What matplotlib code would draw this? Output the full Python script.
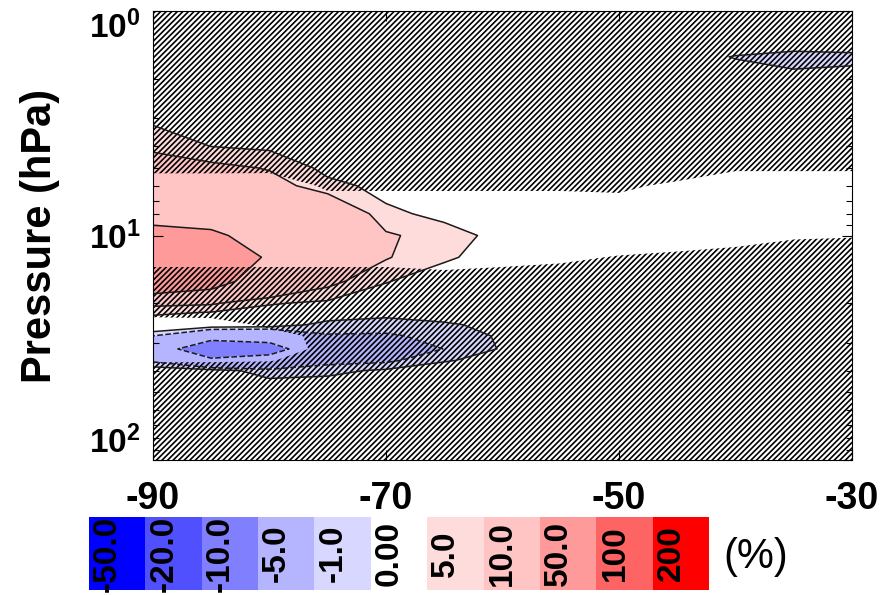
import numpy as np
import matplotlib.pyplot as plt
from matplotlib import colors

plt.rcParams['font.family'] = ['Liberation Sans', 'DejaVu Sans']
plt.rcParams['font.weight'] = 'bold'
plt.rcParams['mathtext.fontset'] = 'custom'
plt.rcParams['mathtext.rm'] = 'Liberation Sans:bold'
plt.rcParams['mathtext.bf'] = 'Liberation Sans:bold'
plt.rcParams['mathtext.it'] = 'Liberation Sans:bold'
plt.rcParams['mathtext.default'] = 'rm'
plt.rcParams['hatch.color'] = 'black'
plt.rcParams['hatch.linewidth'] = 1.2

# grid
lat = [-90, -85, -80, -75, -70, -65, -60, -55, -50, -45, -40, -35, -30]
pres = [1, 1.6, 2, 3, 4, 5, 6, 8, 10, 12.5, 16, 20, 22, 25, 28, 32, 36, 40, 50, 70, 100]

# change (%), one row per pressure level, one column per latitude
change = [
    [1.5, 1.5, 1.5, 1.5, 1.5, 1.5, 1.5, 1.5, 1.5, 2, 3, 4, 4],
    [2, 2, 2, 2, 2, 2, 2, 2, 1.5, 0.8, -0.1, -0.7, -0.5],
    [2.5, 2.5, 2.5, 2.3, 2.2, 2.2, 2.2, 2.2, 2, 1.8, 1, 0.6, 0.8],
    [3.8, 3.5, 3.3, 2.8, 2.5, 2.3, 2.2, 2.2, 2.2, 2.2, 2, 2, 2],
    [9, 4.9, 4, 3.2, 3, 2.5, 2.3, 2.3, 2.3, 2.3, 2.3, 2.3, 2.3],
    [12.9, 12, 9.5, 3.5, 3.3, 2.8, 2.5, 2.5, 2.5, 2.5, 2.5, 2.5, 2.5],
    [20, 20, 13, 6.5, 3.5, 3, 2.8, 2.8, 2.8, 2.8, 2.8, 2.8, 2.8],
    [40, 38, 25, 20, 6, 3.8, 3.2, 3, 3, 3, 3, 3, 3],
    [60, 55, 38, 28, 11, 7, 3.5, 3.2, 3.2, 3.2, 3.2, 3.2, 3.2],
    [85, 75, 46, 30, 10.5, 5.5, 3.5, 3.2, 3.2, 3.2, 3.2, 3.2, 3.2],
    [95, 70, 22, 12, 5.2, 3, 3, 3, 3, 3, 3, 3, 3],
    [12, 11, 5.5, 4, 2.5, 2.5, 2.5, 2.5, 2.5, 2.5, 2.5, 2.5, 2.5],
    [6, 4.8, 3, 1, 0.5, 1, 1.5, 2, 2, 2.2, 2.2, 2.2, 2.2],
    [1.5, 1, 0.8, -0.5, -0.7, -0.3, 0.6, 1.5, 1.8, 2, 2, 2, 2],
    [-1, -4, -4, -1.1, -1.1, -0.8, 0.2, 1.2, 1.5, 1.8, 1.8, 1.8, 1.8],
    [-3.5, -7, -6, -3, -3, -0.95, 0.1, 1, 1.3, 1.6, 1.6, 1.6, 1.6],
    [-1.3, -4.5, -4, -1.5, -1.3, -0.1, 0.4, 1, 1.3, 1.5, 1.5, 1.5, 1.5],
    [0.8, 0.5, -0.5, -0.3, 0.2, 0.6, 0.8, 1.2, 1.4, 1.5, 1.5, 1.5, 1.5],
    [1.5, 1.5, 1, 1, 1.2, 1.2, 1.2, 1.5, 1.5, 1.5, 1.5, 1.5, 1.5],
    [1.5, 1.5, 1.5, 1.5, 1.5, 1.5, 1.5, 1.5, 1.5, 1.5, 1.5, 1.5, 1.5],
    [1.5, 1.5, 1.5, 1.5, 1.5, 1.5, 1.5, 1.5, 1.5, 1.5, 1.5, 1.5, 1.5],
]

# significance (1 = significant, no hatching)
signif = [
    [0, 0, 0, 0, 0, 0, 0, 0, 0, 0, 0, 0, 0],
    [0, 0, 0, 0, 0, 0, 0, 0, 0, 0, 0, 0, 0],
    [0, 0, 0, 0, 0, 0, 0, 0, 0, 0, 0, 0, 0],
    [0, 0, 0, 0, 0, 0, 0, 0, 0, 0, 0, 0, 0],
    [0, 0, 0, 0, 0, 0, 0, 0, 0, 0, 0, 0, 0],
    [0.3, 0.3, 0.35, 0, 0, 0, 0, 0, 0, 0.1, 0.4, 0.4, 0.4],
    [1, 1, 0.9, 0.4, 0.4, 0.4, 0.4, 0.4, 0.35, 0.65, 1, 1, 1],
    [1, 1, 1, 1, 1, 1, 1, 1, 1, 1, 1, 1, 1],
    [1, 1, 1, 1, 1, 1, 1, 1, 1, 1, 0.9, 0.6, 0.55],
    [0.8, 0.8, 0.8, 0.8, 0.8, 1, 0.8, 0.65, 0.45, 0.3, 0.1, 0, 0],
    [0, 0, 0, 0, 0, 0, 0, 0, 0, 0, 0, 0, 0],
    [0, 0, 0, 0, 0, 0, 0, 0, 0, 0, 0, 0, 0],
    [0.2, 0.1, 0, 0, 0, 0, 0, 0, 0, 0, 0, 0, 0],
    [1, 1, 0.3, 0, 0, 0, 0, 0, 0, 0, 0, 0, 0],
    [1, 1, 0.9, 0.2, 0, 0, 0, 0, 0, 0, 0, 0, 0],
    [1, 1, 0.9, 0.3, 0, 0, 0, 0, 0, 0, 0, 0, 0],
    [0.6, 0.6, 0.55, 0.1, 0, 0, 0, 0, 0, 0, 0, 0, 0],
    [0, 0, 0, 0, 0, 0, 0, 0, 0, 0, 0, 0, 0],
    [0, 0, 0, 0, 0, 0, 0, 0, 0, 0, 0, 0, 0],
    [0, 0, 0, 0, 0, 0, 0, 0, 0, 0, 0, 0, 0],
    [0, 0, 0, 0, 0, 0, 0, 0, 0, 0, 0, 0, 0],
]

levels = [-50, -20, -10, -5, -1, 0, 5, 10, 50, 100, 200]
level_labels = ['-50.0', '-20.0', '-10.0', '-5.0', '-1.0', '0.00',
                '5.0', '10.0', '50.0', '100', '200']
fill_colors = ['#0000ff', '#5050ff', '#8080ff', '#b4b4ff', '#d7d7ff', '#ffffff',
               '#ffdcdc', '#ffc4c4', '#ff9a9a', '#ff6464', '#ff0000']

change = np.array(change)
signif = np.array(signif)
bounds = levels + [1000]
cmap = colors.ListedColormap(fill_colors)
norm = colors.BoundaryNorm(bounds, cmap.N)

fig = plt.figure(figsize=(8.93, 5.95), dpi=100)
ax = fig.add_axes([0.1713, 0.2269, 0.7828, 0.7546])

cf = ax.contourf(lat, pres, change, levels=bounds, cmap=cmap, norm=norm)
ax.contourf(lat, pres, signif, levels=[-1, 0.5, 2], colors='none',
            hatches=['//////', None])
styles = ['dashed' if v < 0 else 'solid' for v in levels]
ax.contour(lat, pres, change, levels=levels, colors='#1a1a1a',
           linewidths=1.1, linestyles=styles)

ax.set_yscale('log')
ax.set_ylim(100, 1)
ax.set_xlim(-90, -30)
ax.set_xticks([-90, -70, -50, -30])
ax.set_xticklabels(['-90', '-70', '-50', '-30'], fontsize=27, fontweight='bold')
ax.set_yticks([1, 10, 100])
ax.set_yticklabels([r'$10^0$', r'$10^1$', r'$10^2$'], fontsize=24)
ax.yaxis.set_minor_formatter(plt.NullFormatter())
ylabs = ax.get_yticklabels()
ylabs[0].set_va('top')
ylabs[2].set_va('bottom')
ax.tick_params(which='both', direction='in', top=True, right=True)
ax.tick_params(which='major', length=7, width=0.8)
ax.tick_params(which='minor', length=4, width=0.8)
ax.tick_params(axis='x', pad=15)
ax.tick_params(axis='y', pad=9)
for s in ax.spines.values():
    s.set_linewidth(0.8)

ax.set_ylabel('Pressure (hPa)', fontsize=30, fontweight='bold')
ax.yaxis.set_label_coords(-0.133, 0.5)

# colour bar with labels inside the boxes
cax = fig.add_axes([0.0997, 0.0084, 0.6943, 0.1227])
cb = fig.colorbar(cf, cax=cax, orientation='horizontal', spacing='uniform')
cb.set_ticks([])
cb.minorticks_off()
cax.tick_params(which='both', length=0)
cb.outline.set_visible(False)
n = len(level_labels)
for i, lab in enumerate(level_labels):
    cax.text((i + 0.33) / n, 0.5, lab, transform=cax.transAxes, rotation=90,
             ha='center', va='center', fontsize=24, fontweight='bold',
             clip_on=False)
fig.text(0.8466, 0.064, '(%)', ha='center', va='center', fontsize=30,
         fontweight='normal')

fig.savefig('out.png', dpi=100)
